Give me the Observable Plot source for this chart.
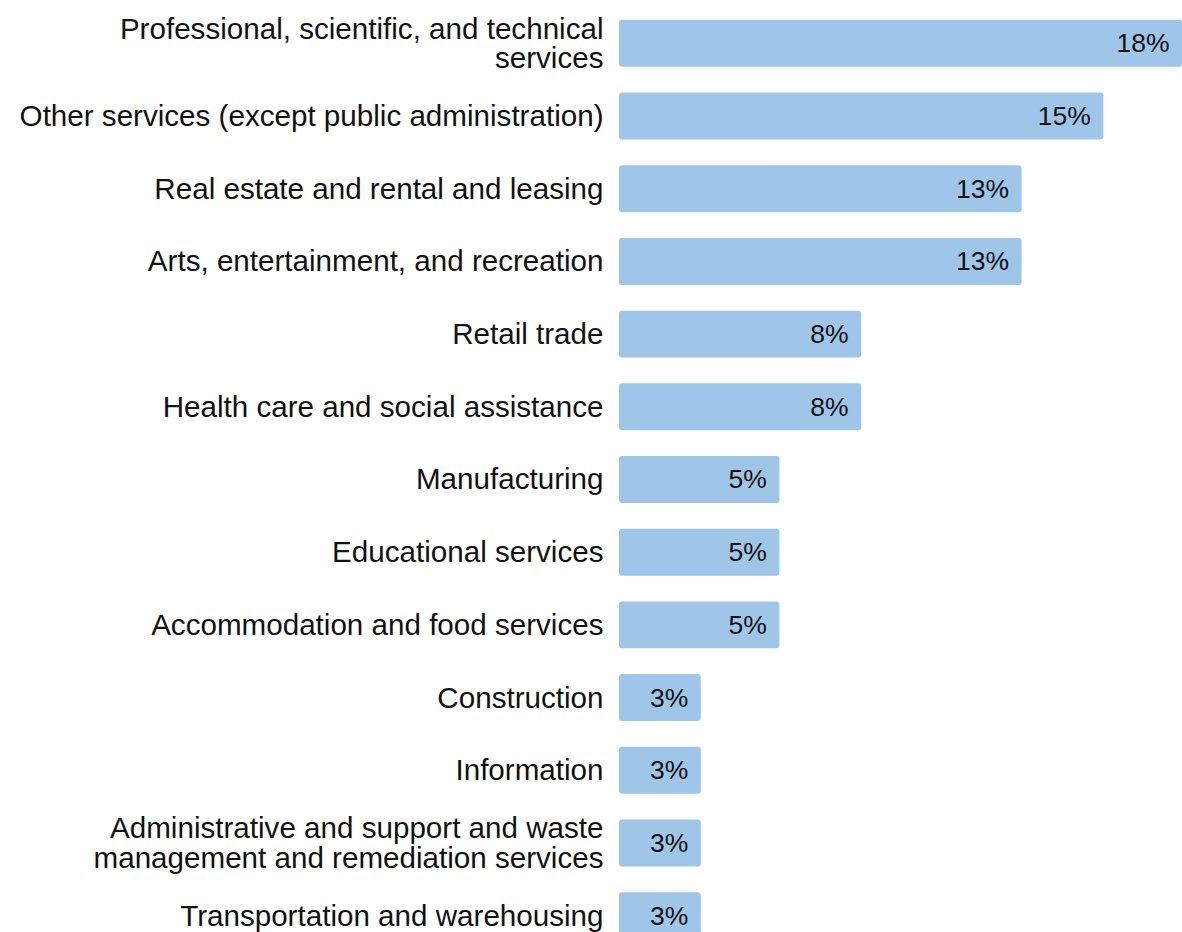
<!DOCTYPE html>
<html><head><meta charset="utf-8">
<script src="https://cdn.jsdelivr.net/npm/d3@7"></script>
<script src="https://cdn.jsdelivr.net/npm/@observablehq/plot@0.6"></script>
<style>html,body{margin:0;padding:0;background:#fff} svg{display:block}</style>
</head><body><div id="chart"></div>
<script>
const industries = [
  "Professional, scientific, and technical services",
  "Other services (except public administration)",
  "Real estate and rental and leasing",
  "Arts, entertainment, and recreation",
  "Retail trade",
  "Health care and social assistance",
  "Manufacturing",
  "Educational services",
  "Accommodation and food services",
  "Construction",
  "Information",
  "Administrative and support and waste management and remediation services",
  "Transportation and warehousing"
];
const shares = [17.9, 15.4, 12.8, 12.8, 7.7, 7.7, 5.1, 5.1, 5.1, 2.6, 2.6, 2.6, 2.6];
const valueLabels = ["18%", "15%", "13%", "13%", "8%", "8%", "5%", "5%", "5%", "3%", "3%", "3%", "3%"];
const tickLabels = {
  "Professional, scientific, and technical services": "Professional, scientific, and technical\nservices",
  "Administrative and support and waste management and remediation services": "Administrative and support and waste\nmanagement and remediation services"
};

const data = industries.map((d, i) => ({industry: d, share: shares[i], label: valueLabels[i]}));

const chart = Plot.plot({
  width: 1182,
  height: 932,
  marginLeft: 619,
  marginRight: 0,
  marginTop: 0,
  marginBottom: 0,
  style: {fontFamily: "'Liberation Sans', Arial, Helvetica, sans-serif", color: "#111", background: "#fff"},
  x: {domain: [0, 17.9], range: [619, 1182], axis: null},
  y: {domain: industries, range: [7, 952], paddingInner: 0.354, paddingOuter: 0.177, round: false, label: null},
  marks: [
    Plot.barX(data, {x: "share", y: "industry", fill: "#9fc5e8", rx: 3}),
    Plot.text(data, {x: "share", y: "industry", text: "label", textAnchor: "end", dx: -13, fontSize: 26.5, fill: "#111"}),
    Plot.axisY({tickSize: 0, tickPadding: 16, fontSize: 29.6, lineHeight: 1.0, fill: "#111", tickFormat: d => tickLabels[d] ?? d, label: null})
  ]
});
document.getElementById("chart").appendChild(chart);
</script>
</body></html>
